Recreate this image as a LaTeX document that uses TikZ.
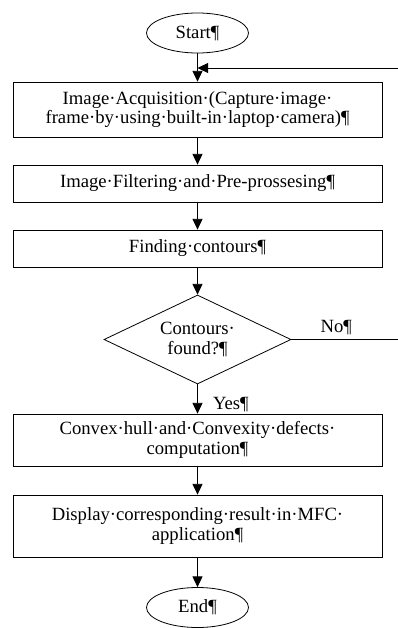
\documentclass[tikz,border=0pt]{standalone}
\usepackage{fontspec}
\setmainfont{Liberation Serif}
\usetikzlibrary{shapes.geometric,arrows.meta}

\begin{document}
\begin{tikzpicture}[x=0.75pt, y=-0.75pt, line width=0.6pt,
  font=\fontsize{14}{14.5}\selectfont,
  >={Triangle[length=8pt,width=7.5pt]},
  terminal/.style={draw, ellipse, minimum width=76.5pt, minimum height=30pt, inner sep=0pt},
  procbox/.style={draw, rectangle, minimum width=276.75pt, align=center, inner sep=2pt},
  decision/.style={draw, diamond, aspect=2.1, minimum width=140.25pt, minimum height=66.75pt, inner sep=0pt, align=center}]
\useasboundingbox (0,0) rectangle (398,628);

\node[terminal] (start) at (197.5,33) {Start¶};
\node[procbox, minimum height=41.25pt] (acquire) at (197.5,109.5)
  {Image·Acquisition·(Capture·image·\\frame·by·using·built-in·laptop·camera)¶};
\node[procbox, minimum height=27.75pt] (filter) at (197.5,183.5)
  {Image·Filtering·and·Pre-prossesing¶};
\node[procbox, minimum height=27.75pt] (contours) at (197.5,248.5)
  {Finding·contours¶};
\node[decision] (found) at (197.5,339.5) {Contours·\\found?¶};
\node[procbox, minimum height=39pt] (hull) at (197.5,440)
  {Convex·hull·and·Convexity·defects·\\computation¶};
\node[procbox, minimum height=46.5pt] (display) at (197.5,526)
  {Display·corresponding·result·in·MFC·\\application¶};
\node[terminal] (end) at (197.5,607.5) {End¶};

% loop back from the "No" branch
\coordinate (noout) at (398,339.5);
\coordinate (loopin) at (398,68);
\coordinate (loop) at (197.5,68);

\draw[->] (start) -- (acquire);
\draw[->] (loopin) -- (loop);
\draw[->] (acquire) -- (filter);
\draw[->] (filter) -- (contours);
\draw[->] (contours) -- (found);
\draw (found.east) -- node[above, pos=0.42] {No¶} (noout);
\draw[->] (found) -- node[right, xshift=8pt, yshift=-4pt] {Yes¶} (hull);
\draw[->] (hull) -- (display);
\draw[->] (display) -- (end);
\end{tikzpicture}
\end{document}
